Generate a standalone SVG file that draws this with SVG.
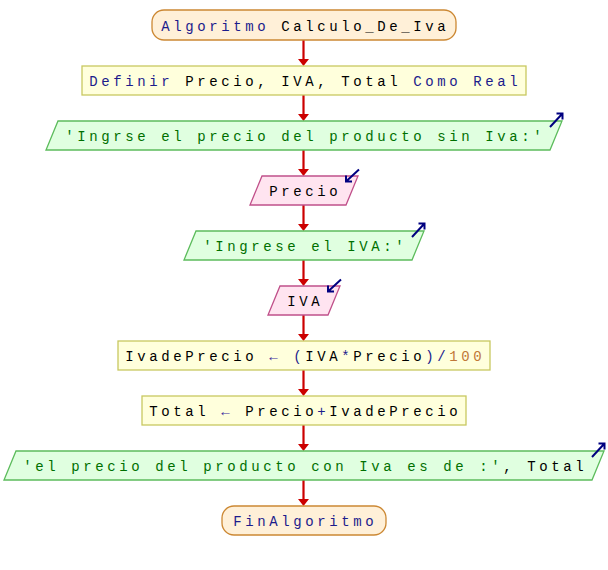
<svg xmlns="http://www.w3.org/2000/svg" width="608" height="570" viewBox="0 0 608 570">
<style>
text{font-family:"Liberation Mono","DejaVu Sans Mono",monospace;font-size:14px;letter-spacing:3.6px;text-anchor:middle;white-space:pre;fill:#000}
.term{fill:#fff0d8;stroke:#cc8833;stroke-width:1.3}
.proc{fill:#ffffdc;stroke:#c8c860;stroke-width:1.3}
.out{fill:#e0ffe0;stroke:#5cbc5c;stroke-width:1.3}
.in{fill:#ffe4f0;stroke:#c0508a;stroke-width:1.3}
.kw{fill:#1c1c8c}
.str{fill:#007000}
.op{fill:#4030a0}
.num{fill:#c07838}
.icon{fill:none;stroke:#000080;stroke-width:2}
.conn line{stroke:#cc0000;stroke-width:2.2}
</style>
<defs>
<g id="outIcon"><path class="icon" d="M-12,6 L0.5,-7.5 M-5.5,-7.5 L0.5,-7.5 L0.5,-1.5" fill="none" stroke="#000080" stroke-width="2"/></g>
<g id="inIcon"><path class="icon" d="M1,-6.5 L-12,5.5 M-12,-0.5 L-12,5.5 L-6,5.5" fill="none" stroke="#000080" stroke-width="2"/></g>
<polygon id="head" points="-5.5,-7 5.5,-7 0,0" fill="#cc0000"/>
</defs>
<g class="conn" id="connectors">
<line x1="303.5" y1="40" x2="303.5" y2="60"/><use href="#head" x="303.5" y="66"/>
<line x1="303.5" y1="95" x2="303.5" y2="115"/><use href="#head" x="303.5" y="121"/>
<line x1="303.5" y1="150" x2="303.5" y2="170"/><use href="#head" x="303.5" y="176"/>
<line x1="303.5" y1="205" x2="303.5" y2="225"/><use href="#head" x="303.5" y="231"/>
<line x1="303.5" y1="260" x2="303.5" y2="280"/><use href="#head" x="303.5" y="286"/>
<line x1="303.5" y1="315" x2="303.5" y2="335"/><use href="#head" x="303.5" y="341"/>
<line x1="303.5" y1="370" x2="303.5" y2="390"/><use href="#head" x="303.5" y="396"/>
<line x1="303.5" y1="425" x2="303.5" y2="445"/><use href="#head" x="303.5" y="451"/>
<line x1="303.5" y1="480" x2="303.5" y2="500"/><use href="#head" x="303.5" y="506"/>
</g>
<g id="start">
<rect class="term" x="152" y="10" width="304" height="30" rx="12"/>
<text x="305.3" y="31"><tspan class="kw">Algoritmo</tspan> Calculo_De_Iva</text>
</g>
<g id="define">
<rect class="proc" x="82" y="66" width="444" height="29"/>
<text x="305.3" y="86"><tspan class="kw">Definir</tspan> Precio, IVA, Total <tspan class="kw">Como Real</tspan></text>
</g>
<g id="out1">
<polygon class="out" points="58,121 562,121 550,150 46,150"/>
<text x="305.3" y="141" class="str">'Ingrse el precio del producto sin Iva:'</text>
<use href="#outIcon" x="562" y="121"/>
</g>
<g id="inPrecio">
<polygon class="in" points="262,176 358,176 346,205 250,205"/>
<text x="305.3" y="196">Precio</text>
<use href="#inIcon" x="358" y="176"/>
</g>
<g id="out2">
<polygon class="out" points="196,231 424,231 412,260 184,260"/>
<text x="305.3" y="251" class="str">'Ingrese el IVA:'</text>
<use href="#outIcon" x="424" y="231"/>
</g>
<g id="inIVA">
<polygon class="in" points="280,286 340,286 328,315 268,315"/>
<text x="305.3" y="306">IVA</text>
<use href="#inIcon" x="340" y="286"/>
</g>
<g id="assign1">
<rect class="proc" x="118" y="341" width="372" height="29"/>
<text x="305.3" y="361">IvadePrecio <tspan class="op">←</tspan> <tspan class="kw">(</tspan>IVA<tspan class="kw">*</tspan>Precio<tspan class="kw">)/</tspan><tspan class="num">100</tspan></text>
</g>
<g id="assign2">
<rect class="proc" x="142" y="396" width="324" height="29"/>
<text x="305.3" y="416">Total <tspan class="op">←</tspan> Precio<tspan class="kw">+</tspan>IvadePrecio</text>
</g>
<g id="out3">
<polygon class="out" points="16,451 604,451 592,480 4,480"/>
<text x="305.3" y="471"><tspan class="str">'el precio del producto con Iva es de :'</tspan>, Total</text>
<use href="#outIcon" x="604" y="451"/>
</g>
<g id="end">
<rect class="term" x="222" y="506" width="164" height="29" rx="12"/>
<text x="305.3" y="526" class="kw">FinAlgoritmo</text>
</g>
</svg>
